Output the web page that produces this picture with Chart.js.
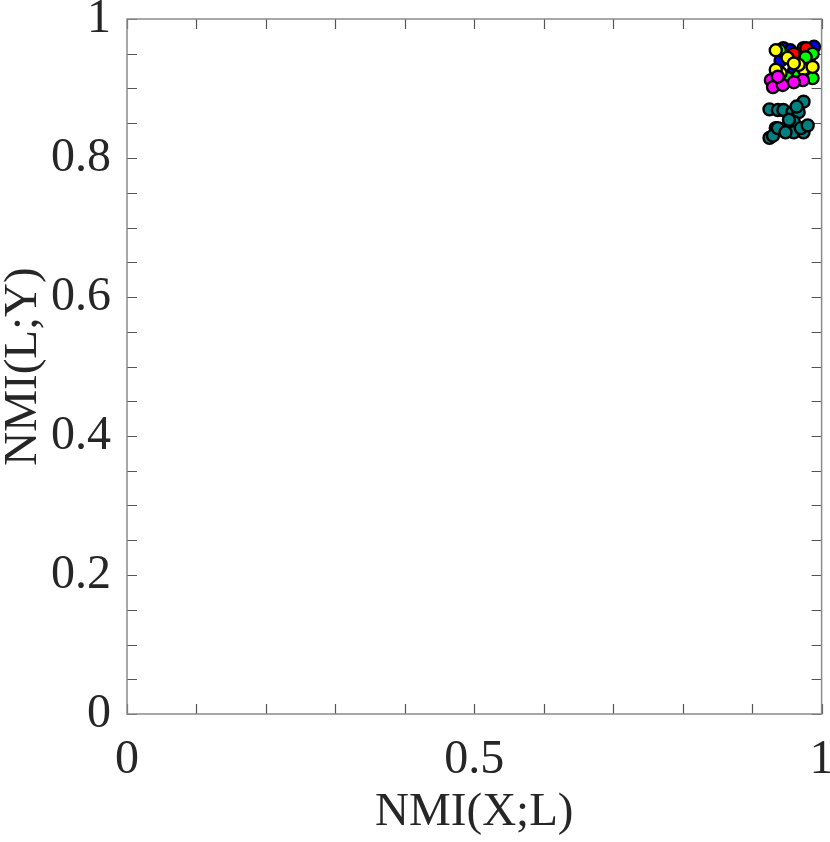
<!DOCTYPE html>
<html>
<head>
<meta charset="utf-8">
<script src="https://cdn.jsdelivr.net/npm/chart.js@4"></script>
<style>
  body { margin: 0; background: #fff; }
  canvas { display: block; }
</style>
</head>
<body>
<canvas id="chart" width="830" height="842"></canvas>
<script>
// values: [NMI(X;L), NMI(L;Y)]
const tealPoints = [
  [0.925, 0.829], [0.934, 0.843], [0.930, 0.832], [0.925, 0.870],
  [0.937, 0.869], [0.945, 0.869], [0.958, 0.866], [0.974, 0.881],
  [0.967, 0.866], [0.960, 0.852], [0.948, 0.843], [0.937, 0.843],
  [0.960, 0.837], [0.974, 0.837], [0.948, 0.837], [0.970, 0.843],
  [0.980, 0.847], [0.953, 0.855], [0.964, 0.874],
];
const magentaPoints = [
  [0.927, 0.912], [0.930, 0.902], [0.944, 0.905], [0.973, 0.912],
  [0.960, 0.909], [0.937, 0.917],
];
const yellowPoints = [
  [0.951, 0.944], [0.941, 0.922], [0.974, 0.928], [0.987, 0.931],
  [0.967, 0.934], [0.934, 0.927], [0.934, 0.955], [0.960, 0.936],
];
const greenPoints = [
  [0.987, 0.950], [0.951, 0.915], [0.987, 0.915], [0.967, 0.919],
  [0.977, 0.945], [0.940, 0.955],
];
const redPoints = [
  [0.968, 0.948], [0.974, 0.958], [0.981, 0.938], [0.960, 0.950],
  [0.978, 0.958],
];
const bluePoints = [
  [0.941, 0.940], [0.945, 0.958], [0.989, 0.960], [0.955, 0.955],
  [0.960, 0.925], [0.976, 0.921],
];

const xLabelTicks = [0, 0.5, 1];
const yLabelTicks = [0, 0.2, 0.4, 0.6, 0.8, 1];
const xMinorTicks = [0, 0.1, 0.2, 0.3, 0.4, 0.5, 0.6, 0.7, 0.8, 0.9, 1];
const yMinorTicks = [0, 0.05, 0.1, 0.15, 0.2, 0.25, 0.3, 0.35, 0.4, 0.45, 0.5,
  0.55, 0.6, 0.65, 0.7, 0.75, 0.8, 0.85, 0.9, 0.95, 1];

const textColor = "#262626";
const serif = "'Liberation Serif', 'DejaVu Serif', serif";

function series(points, color) {
  return {
    data: points.map((p) => ({ x: p[0], y: p[1] })),
    backgroundColor: color,
    borderColor: "#000",
    borderWidth: 2.4,
    pointRadius: 6,
    pointHoverRadius: 6,
  };
}

// box around plot area, with inward ticks on all four sides
const boxTicks = {
  id: "boxTicks",
  beforeDatasetsDraw(chart) {
    const { ctx, chartArea: a, scales } = chart;
    const len = 10;
    ctx.save();
    ctx.strokeStyle = "#555";
    ctx.lineWidth = 1.2;
    ctx.beginPath();
    xMinorTicks.forEach((v) => {
      const px = Math.round(scales.x.getPixelForValue(v)) + 0.5;
      ctx.moveTo(px, a.bottom);
      ctx.lineTo(px, a.bottom - len);
      ctx.moveTo(px, a.top);
      ctx.lineTo(px, a.top + len);
    });
    yMinorTicks.forEach((v) => {
      const py = Math.round(scales.y.getPixelForValue(v)) + 0.5;
      ctx.moveTo(a.left, py);
      ctx.lineTo(a.left + len, py);
      ctx.moveTo(a.right, py);
      ctx.lineTo(a.right - len, py);
    });
    ctx.stroke();
    ctx.strokeStyle = "#8a8a8a";
    ctx.lineWidth = 1.5;
    ctx.strokeRect(a.left, a.top, a.right - a.left, a.bottom - a.top);
    ctx.restore();
  },
};

new Chart(document.getElementById("chart"), {
  type: "scatter",
  data: {
    datasets: [
      series(tealPoints, "#008080"),
      series(magentaPoints, "#ff00ff"),
      series(yellowPoints, "#ffff00"),
      series(greenPoints, "#00ff00"),
      series(redPoints, "#ff0000"),
      series(bluePoints, "#0000ff"),
    ],
  },
  options: {
    responsive: false,
    animation: false,
    layout: { padding: { top: 19, right: 7, left: 0, bottom: 0 } },
    plugins: {
      legend: { display: false },
      tooltip: { enabled: false },
    },
    scales: {
      x: {
        type: "linear",
        min: 0,
        max: 1,
        afterBuildTicks: (scale) => {
          scale.ticks = xLabelTicks.map((v) => ({ value: v }));
        },
        afterFit: (scale) => {
          scale.height = 128;
          scale.paddingLeft = 0;
          scale.paddingRight = 0;
        },
        grid: { display: false, drawTicks: false },
        border: { display: false },
        ticks: {
          padding: 18,
          maxRotation: 0,
          color: textColor,
          font: { family: serif, size: 48 },
          callback: (v) => String(v),
        },
        title: {
          display: true,
          text: "NMI(X;L)",
          color: textColor,
          font: { family: serif, size: 47, lineHeight: 1 },
          padding: { top: 0, bottom: 6 },
        },
      },
      y: {
        type: "linear",
        min: 0,
        max: 1,
        afterBuildTicks: (scale) => {
          scale.ticks = yLabelTicks.map((v) => ({ value: v }));
        },
        afterFit: (scale) => {
          scale.width = 127;
          scale.paddingTop = 0;
          scale.paddingBottom = 0;
        },
        grid: { display: false, drawTicks: false },
        border: { display: false },
        ticks: {
          padding: 16,
          color: textColor,
          font: { family: serif, size: 48 },
          callback: (v) => String(v),
        },
        title: {
          display: true,
          text: "NMI(L;Y)",
          color: textColor,
          font: { family: serif, size: 47, lineHeight: 1 },
          padding: { top: 0, bottom: 0 },
        },
      },
    },
  },
  plugins: [boxTicks],
});
</script>
</body>
</html>
